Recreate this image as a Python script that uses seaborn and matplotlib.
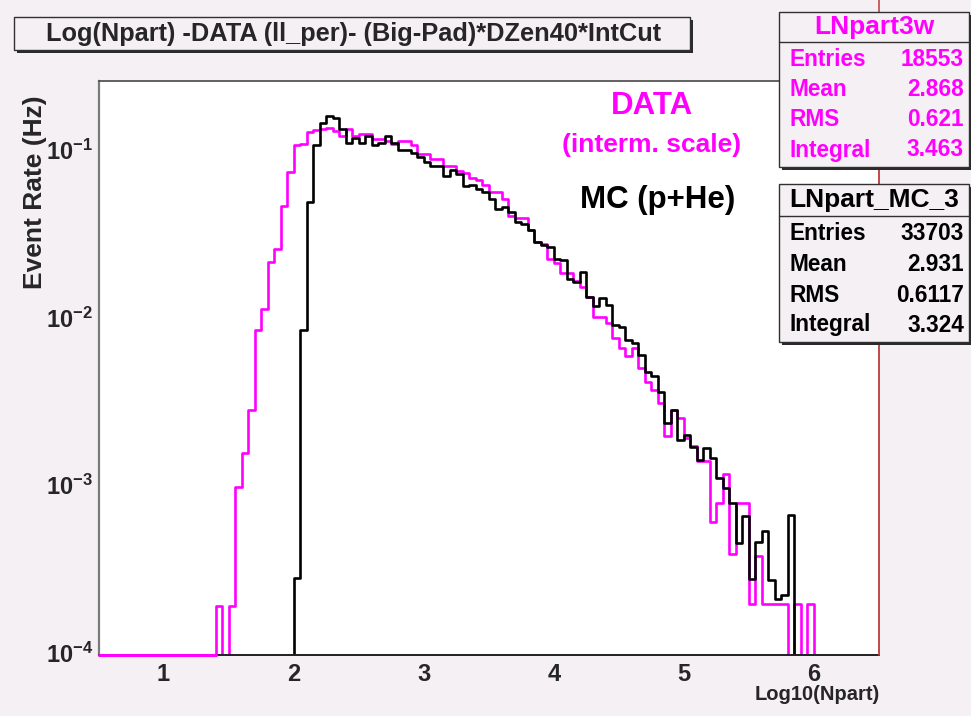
import numpy as np
import pandas as pd
import matplotlib
matplotlib.use("Agg")
import matplotlib.pyplot as plt
from matplotlib.patches import Rectangle
from matplotlib.lines import Line2D
from matplotlib.ticker import FixedLocator, MultipleLocator, LogLocator, FuncFormatter, NullFormatter
import seaborn as sns

# ---- binning (log10 of Npart) ----
bin_lo, bin_hi, bin_w = 0.5, 6.5, 0.05

# DATA histogram (intermediate scale), one value per bin starting at data_start
data_start = 1.40
data_rate = [
    1.9e-4, 0.0, 1.9e-4, 9.8e-4, 1.55e-3, 2.8e-3, 8.4e-3, 1.13e-2, 2.13e-2, 2.55e-2, 4.65e-2, 7.4e-2,
    0.107, 0.108, 0.127, 0.132, 0.133, 0.135, 0.130, 0.120, 0.133, 0.120,
    0.124, 0.124, 0.116, 0.116, 0.113, 0.108, 0.112, 0.112, 0.106, 0.094,
    0.094, 0.088, 0.088, 0.080, 0.080, 0.075, 0.073, 0.068, 0.066, 0.062,
    0.0557, 0.0557, 0.051, 0.0405, 0.039, 0.039, 0.033, 0.028, 0.0275, 0.0224,
    0.021, 0.0183, 0.0183, 0.0165, 0.0152, 0.0133, 0.0100, 0.0100, 0.0092, 0.0075,
    0.0066, 0.0059, 0.0066, 0.0050, 0.0041, 0.0037, 0.0031, 0.00195, 0.0028, 0.0025,
    0.0019, 0.0017, 0.0014, 0.0014, 0.0006, 0.00078, 0.00116, 0.00039, 0.00078, 0.00078,
    0.000195, 0.00038, 0.000195, 0.000195, 0.000195, 0.000195, 0.0, 0.000195, 0.0, 0.000195,
]

# MC (p+He) histogram, one value per bin starting at mc_start
mc_start = 2.00
mc_rate = [
    2.8e-4, 8.4e-3, 0.049, 0.107, 0.145, 0.159, 0.154, 0.133, 0.110, 0.118,
    0.110, 0.120, 0.106, 0.110, 0.120, 0.110, 0.099, 0.100, 0.096, 0.090,
    0.084, 0.080, 0.080, 0.070, 0.076, 0.072, 0.061, 0.062, 0.058, 0.0557,
    0.051, 0.0445, 0.0455, 0.0425, 0.037, 0.036, 0.033, 0.0281, 0.0269, 0.0263,
    0.0224, 0.0219, 0.0170, 0.0162, 0.0187, 0.0132, 0.0117, 0.0131, 0.0118, 0.0090,
    0.0088, 0.0073, 0.0070, 0.0060, 0.0047, 0.0045, 0.0036, 0.00234, 0.0028, 0.00186,
    0.0020, 0.00169, 0.00142, 0.00166, 0.00146, 0.0011, 0.00096, 0.00078, 0.00045, 0.00065,
    0.000275, 0.00046, 0.00053, 0.00027, 0.00021, 0.00022, 0.00066,
]

x_major = [1, 2, 3, 4, 5, 6]
y_lim = (0.97e-4, 0.257)

title = "Log(Npart) -DATA (ll_per)- (Big-Pad)*DZen40*IntCut"
stat_labels = ["Entries", "Mean", "RMS", "Integral"]
data_name = "LNpart3w"
data_stats = ["18553", "2.868", "0.621", "3.463"]
mc_name = "LNpart_MC_3"
mc_stats = ["33703", "2.931", "0.6117", "3.324"]

# ---- build the binned table ----
edges = np.round(np.arange(bin_lo, bin_hi + bin_w / 2, bin_w), 4)
centers = edges[:-1] + bin_w / 2
n_bins = len(centers)


def fill_bins(start, values):
    full = np.zeros(n_bins)
    i0 = int(round((start - bin_lo) / bin_w))
    full[i0:i0 + len(values)] = values
    return full


df = pd.DataFrame({
    "lognpart": centers,
    "data": fill_bins(data_start, data_rate),
    "mc": fill_bins(mc_start, mc_rate),
})

# ---- style ----
BG = "#F4F0F4"
MAG = "#FF00FF"
W, H = 971, 716

sns.set_style("white")
plt.rcParams["font.family"] = ["Liberation Sans", "DejaVu Sans"]
plt.rcParams["mathtext.fontset"] = "custom"
plt.rcParams["mathtext.rm"] = "Liberation Sans"
plt.rcParams["mathtext.bf"] = "Liberation Sans:bold"


def fx(px):
    return px / W


def fy(py):
    return 1 - py / H


fig = plt.figure(figsize=(W / 100, H / 100), dpi=100, facecolor=BG)
ax_l, ax_r, ax_t, ax_b = 98.5, 879, 81, 655
ax = fig.add_axes([fx(ax_l), fy(ax_b), fx(ax_r) - fx(ax_l), fy(ax_t) - fy(ax_b)])
ax.set_facecolor("white")

bin_list = edges.tolist()
sns.histplot(data=df, x="lognpart", weights="data", bins=bin_list, element="step",
             fill=False, color=MAG, linewidth=1.9, ax=ax)
sns.histplot(data=df, x="lognpart", weights="mc", bins=bin_list, element="step",
             fill=False, color="black", linewidth=1.9, ax=ax)
ax.set_yscale("log")
ax.set_xlim(bin_lo, bin_hi)
ax.set_ylim(*y_lim)

# empty DATA bins before the first filled one sit on the lower frame
first_edge = edges[np.nonzero(df["data"].to_numpy())[0][0]]
ax.plot([bin_lo, first_edge], [y_lim[0], y_lim[0]], color=MAG, lw=2.2,
        clip_on=False, zorder=5)

ax.set_xlabel("")
ax.set_ylabel("")

# axes frame
ax.spines["left"].set_color("#7A7A7A")
ax.spines["left"].set_linewidth(1.6)
ax.spines["bottom"].set_color("#202020")
ax.spines["bottom"].set_linewidth(1.4)
ax.spines["top"].set_color("#555555")
ax.spines["top"].set_linewidth(1.3)
ax.spines["right"].set_color("#C04848")
ax.spines["right"].set_linewidth(1.2)

# ticks
ax.xaxis.set_major_locator(FixedLocator(x_major))
ax.xaxis.set_minor_locator(MultipleLocator(0.2))
ax.yaxis.set_major_locator(LogLocator(base=10))
ax.yaxis.set_minor_locator(LogLocator(base=10, subs=np.arange(2, 10)))
ax.yaxis.set_minor_formatter(NullFormatter())
ax.xaxis.set_major_formatter(FuncFormatter(lambda v, p: f"{int(round(v))}"))
ax.yaxis.set_major_formatter(
    FuncFormatter(lambda v, p: r"$\mathbf{10^{%d}}$" % int(round(np.log10(v)))))
ax.tick_params(which="both", direction="in", top=False, right=False,
               color="#202020", width=1.1)
ax.tick_params(axis="x", which="major", length=12, pad=6, labelsize=17)
ax.tick_params(axis="x", which="minor", length=6)
ax.tick_params(axis="y", which="major", length=16, pad=4, labelsize=17)
ax.tick_params(axis="y", which="minor", length=8)
for lab in ax.get_xticklabels():
    lab.set_fontweight("bold")

# axis titles
fig.text(fx(35), fy(95), "Event Rate (Hz)", rotation=90, ha="center", va="top",
         fontsize=19, fontweight="bold")
fig.text(fx(880), fy(695), "Log10(Npart)", ha="right", va="center",
         fontsize=14.5, fontweight="bold")

# curve labels
fig.text(fx(652), fy(106), "DATA", ha="center", va="center", fontsize=22.5,
         fontweight="bold", color=MAG)
fig.text(fx(652), fy(145), "(interm. scale)", ha="center", va="center",
         fontsize=19, fontweight="bold", color=MAG)
fig.text(fx(658), fy(200), "MC (p+He)", ha="center", va="center", fontsize=22.5,
         fontweight="bold", color="black")

# pad border line on the right
fig.add_artist(Line2D([fx(ax_r), fx(ax_r)], [fy(ax_b), fy(0)], color="#C04848",
                      lw=1.2, zorder=0.5))


def framed_box(x0, y0, x1, y1, shadow=3):
    fig.add_artist(Rectangle((fx(x0 + shadow), fy(y1 + shadow)), fx(x1) - fx(x0),
                             fy(y0) - fy(y1), transform=fig.transFigure,
                             facecolor="#2A2A2A", edgecolor="none", zorder=1))
    fig.add_artist(Rectangle((fx(x0), fy(y1)), fx(x1) - fx(x0), fy(y0) - fy(y1),
                             transform=fig.transFigure, facecolor=BG,
                             edgecolor="#303030", lw=1.0, zorder=1.1))


# title box
framed_box(14, 17, 690, 50)
fig.text(fx(354), fy(33.5), title, ha="center", va="center", fontsize=18.3,
         fontweight="bold", zorder=2)


def stats_box(y0, y1, y_line, y_head, y_rows, name, values, color):
    x0, x1 = 779, 969
    framed_box(x0, y0, x1, y1, shadow=3)
    fig.add_artist(Line2D([fx(x0), fx(x1)], [fy(y_line), fy(y_line)],
                          color="#303030", lw=1.0, zorder=1.2))
    fig.text(fx((x0 + x1) / 2), fy(y_head), name, ha="center", va="center",
             fontsize=19, fontweight="bold", color=color, zorder=2)
    for lab, val, yy in zip(stat_labels, values, y_rows):
        fig.text(fx(789), fy(yy), lab, ha="left", va="center", fontsize=16.3,
                 fontweight="bold", color=color, zorder=2)
        fig.text(fx(964), fy(yy), val, ha="right", va="center", fontsize=16.3,
                 fontweight="bold", color=color, zorder=2)


stats_box(12, 167, 42, 27, [60, 90, 120, 150], data_name, data_stats, MAG)
stats_box(184, 342, 216, 200, [233, 265, 296, 325], mc_name, mc_stats, "black")

fig.savefig("out.png", dpi=100, facecolor=BG)
